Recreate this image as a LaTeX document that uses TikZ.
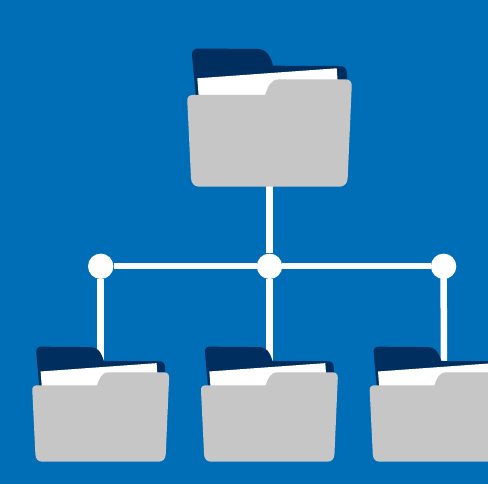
\documentclass[tikz,border=0pt]{standalone}
\definecolor{bgblue}{HTML}{006DB7}
\definecolor{darkblue}{HTML}{002F5F}
\definecolor{foldergrey}{HTML}{C6C6C6}
\tikzset{
  joint/.style={circle,fill=white,draw=none,minimum size=25.4pt,inner sep=0pt},
  link/.style={draw=white,line width=6.5pt},
  folder/.pic={
    \begin{scope}[shift={(-187.3,-79.3)}]
      \fill[darkblue] (198,48.5) -- (258,49) .. controls (266,49.2) and (270,55) .. (273.3,65.7)
        -- (340,66) .. controls (344.5,66) and (347,69) .. (347,74) -- (347,110) -- (197,110)
        -- (192,55) .. controls (191.7,51) and (194,48.5) .. (198,48.5) -- cycle;
      \fill[white] (197.3,78.3) -- (336.7,68.3) -- (339,100) -- (199,100) -- cycle;
      \fill[foldergrey] (193,95) -- (265,95) .. controls (268,87) and (270,79.3) .. (280,79.3)
        -- (345.5,79.3) .. controls (350,79.3) and (352,82) .. (351.7,86.7)
        -- (347.7,178) .. controls (347.5,183.5) and (344,186.7) .. (339.5,186.7)
        -- (199,186.7) .. controls (194.5,186.7) and (191.2,183.5) .. (191,178)
        -- (187.3,101) .. controls (187.1,97) and (189,95) .. (193,95) -- cycle;
    \end{scope}
  }
}
\begin{document}
\begin{tikzpicture}[x=1pt,y=-1pt]
  \useasboundingbox (0,0) rectangle (488,484);
  \clip (0,0) rectangle (488,484);
  \fill[bgblue] (0,0) rectangle (488,484);
  \coordinate (top) at (187.3,79.3);
  \coordinate (leftf) at (32.3,372.3);
  \coordinate (midf) at (201,372.3);
  \coordinate (rightf) at (369.7,372.3);
  \coordinate (topout) at (269.5,150);
  \coordinate (leftout) at (100.7,380);
  \coordinate (midout) at (269.5,380);
  \coordinate (rightout) at (444,380);
  \node[joint] (jl) at (100.7,266.3) {};
  \node[joint] (jm) at (269.5,266.3) {};
  \node[joint] (jr) at (443.6,266.3) {};
  \draw[link] (topout) -- (jm);
  \draw[link] (jm) -- (midout);
  \draw[link] (jl) -- (leftout);
  \draw[link] (jr.center) -- (rightout);
  \draw[draw=white,line width=6pt] (jl) -- (jm) -- (jr);
  \pic at (top) {folder};
  \pic[scale=.832] at (leftf) {folder};
  \pic[scale=.832] at (midf) {folder};
  \pic[scale=.832] at (rightf) {folder};
\end{tikzpicture}
\end{document}
